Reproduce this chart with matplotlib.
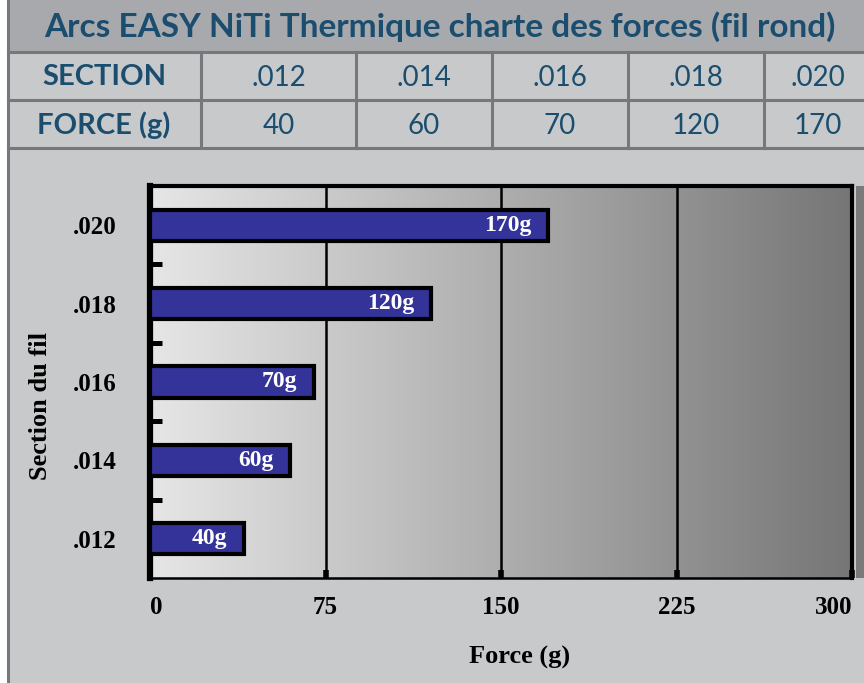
import numpy as np
import matplotlib
matplotlib.use("Agg")
import matplotlib.pyplot as plt
from matplotlib.patches import Rectangle
from matplotlib.colors import LinearSegmentedColormap

title = "Arcs EASY NiTi Thermique charte des forces (fil rond)"
sections = [".012", ".014", ".016", ".018", ".020"]
forces = [40, 60, 70, 120, 170]
x_ticks = [0, 75, 150, 225, 300]

W, H = 864, 683
teal = "#1b4d6e"
border = "#77787b"
cell_bg = "#c8c9cb"
head_bg = "#a7a9ac"
serif = "Liberation Serif"

fig = plt.figure(figsize=(W / 100, H / 100), dpi=100)
fig.patch.set_facecolor("white")


def px_rect(x0, y0, x1, y1, **kw):
    # rectangle given in pixel coords (origin top-left)
    r = Rectangle((x0 / W, 1 - y1 / H), (x1 - x0) / W, (y1 - y0) / H,
                  transform=fig.transFigure, **kw)
    fig.patches.append(r)


def px_text(x, y, s, **kw):
    fig.text(x / W, 1 - y / H, s, transform=fig.transFigure, **kw)


# background panels
px_rect(8, 0, W + 5, H + 5, facecolor=cell_bg, edgecolor="none", zorder=-2)
px_rect(8, 0, W + 5, 52, facecolor=head_bg, edgecolor="none", zorder=-2)
# table borders
lw = 2.2
for y in [52, 100, 148]:
    fig.add_artist(plt.Line2D([8 / W, 1], [1 - y / H] * 2, color=border, lw=lw,
                              transform=fig.transFigure))
fig.add_artist(plt.Line2D([8 / W] * 2, [0, 1], color=border, lw=lw,
                          transform=fig.transFigure))
col_x = [8, 201, 356, 492, 628, 764, W + 100]
for x in col_x[1:-1]:
    fig.add_artist(plt.Line2D([x / W] * 2, [1 - 52 / H, 1 - 148 / H], color=border,
                              lw=lw, transform=fig.transFigure))

px_text(440, 27, title, ha="center", va="center", color=teal,
        fontsize=24, fontweight="bold", family="Lato")
px_text(104, 77, "SECTION", ha="center", va="center", color=teal,
        fontsize=21, fontweight="bold", family="Lato")
px_text(104, 125, "FORCE (g)", ha="center", va="center", color=teal,
        fontsize=21, fontweight="bold", family="Lato")
for i, (s, f) in enumerate(zip(sections, forces)):
    cx = (col_x[i + 1] + min(col_x[i + 2], W + 8)) / 2
    px_text(cx, 78, s, ha="center", va="center", color=teal, fontsize=20, family="Lato")
    px_text(cx, 126, str(f), ha="center", va="center", color=teal, fontsize=20, family="Lato")

# darker strip past the right frame
px_rect(856, 186, W + 5, 578, facecolor="#7a7a7a", edgecolor="none", zorder=-1)

# chart
ax = fig.add_axes([150 / W, 1 - 578 / H, (852 - 150) / W, (578 - 186) / H])
ax.set_zorder(5)
ypos = np.arange(len(sections))
grad = np.linspace(0, 1, 256).reshape(1, -1)
cmap = LinearSegmentedColormap.from_list("bg", ["#e6e6e6", "#767676"])
ax.imshow(grad, extent=[0, 300, -0.5, 4.5], aspect="auto", cmap=cmap, zorder=0)
for x in x_ticks[1:-1]:
    ax.axvline(x, color="black", lw=1.8, zorder=1)

ax.barh(ypos, forces, height=0.40, color="#333399", edgecolor="black",
        linewidth=3, zorder=3)
for y, f in zip(ypos, forces):
    ax.text(f - 7, y, f"{f}g", ha="right", va="center", color="white",
            fontsize=17, fontweight="bold", family=serif, zorder=4)

ax.set_xlim(0, 300)
ax.set_ylim(-0.5, 4.5)
ax.set_xticks(x_ticks)
ax.set_xticklabels([str(v) for v in x_ticks], fontsize=18, fontweight="bold",
                   family=serif)
ax.get_xticklabels()[0].set_ha("left")
ax.get_xticklabels()[-1].set_ha("right")
ax.set_yticks(ypos)
ax.set_yticklabels(sections, fontsize=18, fontweight="bold", family=serif)
ax.set_yticks(ypos[:-1] + 0.5, minor=True)
ax.tick_params(axis="y", which="major", length=0, pad=24)
ax.tick_params(axis="y", which="minor", direction="in", length=8.5, width=3.6, color="black")
ax.tick_params(axis="x", which="major", direction="in", length=5.5, width=4, pad=13)
ax.spines["left"].set_linewidth(4.5)
ax.spines["top"].set_linewidth(3)
ax.spines["right"].set_linewidth(3)
ax.spines["bottom"].set_linewidth(1.8)
ax.set_xlabel("Force (g)", fontsize=19, fontweight="bold", family=serif,
              labelpad=19)
ax.set_ylabel("Section du fil", fontsize=19, fontweight="bold", family=serif,
              labelpad=15)
ax.xaxis.label.set_x(0.526)
ax.yaxis.label.set_y(0.44)

fig.savefig("out.png", dpi=100, facecolor=fig.get_facecolor())
